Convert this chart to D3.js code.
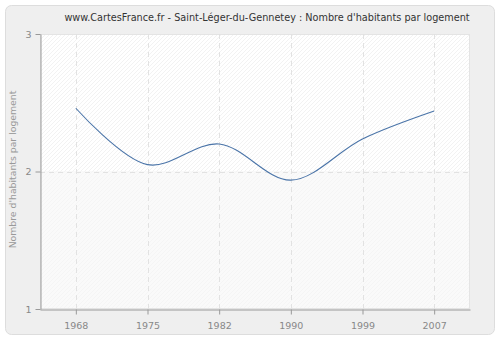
<!DOCTYPE html>
<html>
<head>
<meta charset="utf-8">
<script src="https://cdn.jsdelivr.net/npm/d3@7"></script>
<style>
  body { margin: 0; background: #fff; }
  svg text { font-family: "DejaVu Sans", Verdana, sans-serif; }
</style>
</head>
<body>
<div class="canvas"></div>
<script>
const years = ['1968', '1975', '1982', '1990', '1999', '2007'];
const values = [2.46, 2.05, 2.20, 1.937, 2.237, 2.44];
const yTicks = [1, 2, 3];
const title = "www.CartesFrance.fr - Saint-Léger-du-Gennetey : Nombre d'habitants par logement";
const yLabel = "Nombre d'habitants par logement";

const width = 500, height = 340;
const margin = { left: 40, right: 30, top: 34, bottom: 31 };

const svg = d3.select('.canvas')
    .append('svg')
    .attr('width', width)
    .attr('height', height);

const defs = svg.append('defs');
function hatch(id, bg, fg) {
    const p = defs.append('pattern')
        .attr('id', id)
        .attr('patternUnits', 'userSpaceOnUse')
        .attr('width', 4).attr('height', 4);
    p.append('rect').attr('width', 4).attr('height', 4).attr('fill', bg);
    p.append('path').attr('d', 'M-1,1 l2,-2 M0,4 l4,-4 M3,5 l2,-2')
        .attr('stroke', fg).attr('stroke-width', 0.6);
}
hatch('hatchTop', '#ffffff', '#e9e9e9');
hatch('hatchBot', '#fafafa', '#f1f1f1');

// outer panel
svg.append('rect')
    .attr('x', 5.5).attr('y', 5.5)
    .attr('width', 489).attr('height', 329)
    .attr('rx', 6)
    .attr('fill', '#efefef')
    .attr('stroke', '#dddddd');

const x = d3.scalePoint()
    .domain(years)
    .range([margin.left, width - margin.right])
    .padding(0.5);

const y = d3.scaleLinear()
    .domain([1, 3])
    .range([height - margin.bottom, margin.top]);

const x0 = margin.left, x1 = width - margin.right;

// plot background
svg.append('rect')
    .attr('x', x0).attr('y', y(3))
    .attr('width', x1 - x0).attr('height', y(2) - y(3))
    .attr('fill', 'url(#hatchTop)');
svg.append('rect')
    .attr('x', x0).attr('y', y(2))
    .attr('width', x1 - x0).attr('height', y(1) - y(2))
    .attr('fill', 'url(#hatchBot)');
svg.append('rect')
    .attr('x', x0 + 0.5).attr('y', y(3) + 0.5)
    .attr('width', x1 - x0 - 1).attr('height', y(1) - y(3) - 1)
    .attr('fill', 'none')
    .attr('stroke', '#e4e4e4');

// grid
const grid = svg.append('g')
    .attr('stroke', '#e2e2e2')
    .attr('stroke-dasharray', '5,4');
grid.selectAll('.vg')
    .data(years)
    .enter().append('line')
    .attr('x1', d => Math.round(x(d)) + 0.5).attr('x2', d => Math.round(x(d)) + 0.5)
    .attr('y1', y(3)).attr('y2', y(1));
grid.selectAll('.hg')
    .data(yTicks.filter(t => t > 1 && t < 3))
    .enter().append('line')
    .attr('x1', x0).attr('x2', x1)
    .attr('y1', d => Math.round(y(d)) + 0.5).attr('y2', d => Math.round(y(d)) + 0.5);

// axes
const xAxis = svg.append('g')
    .attr('transform', `translate(0,${Math.round(y(1)) + 0.5})`)
    .call(d3.axisBottom(x).tickSize(5).tickSizeOuter(0));
const yAxis = svg.append('g')
    .attr('transform', `translate(${x0 + 0.5},0)`)
    .call(d3.axisLeft(y).tickValues(yTicks).tickFormat(d3.format('d')).tickSize(5).tickSizeOuter(0));

[xAxis, yAxis].forEach(a => {
    a.select('.domain').attr('stroke', '#999');
    a.selectAll('.tick line').attr('stroke', '#999');
    a.selectAll('.tick text')
        .attr('fill', '#888')
        .style('font-size', '9.5px')
        .style('font-family', '"DejaVu Sans", Verdana, sans-serif');
});
xAxis.selectAll('.tick text').attr('dy', '1.25em');
yAxis.selectAll('.tick text').attr('x', -9);

// line
const line = d3.line()
    .x((d, i) => x(years[i]))
    .y(d => y(d))
    .curve(d3.curveCatmullRom.alpha(0.5));

svg.append('path')
    .datum(values)
    .attr('fill', 'none')
    .attr('stroke', '#4a74a8')
    .attr('stroke-width', 1.1)
    .attr('d', line);

// title
svg.append('text')
    .attr('x', 267)
    .attr('y', 21)
    .attr('text-anchor', 'middle')
    .attr('fill', '#333')
    .style('font-size', '9.7px')
    .text(title);

// y label
svg.append('text')
    .attr('transform', `translate(16,${y(2) - 2}) rotate(-90)`)
    .attr('text-anchor', 'middle')
    .attr('fill', '#999')
    .style('font-size', '9.3px')
    .text(yLabel);
</script>
</body>
</html>
